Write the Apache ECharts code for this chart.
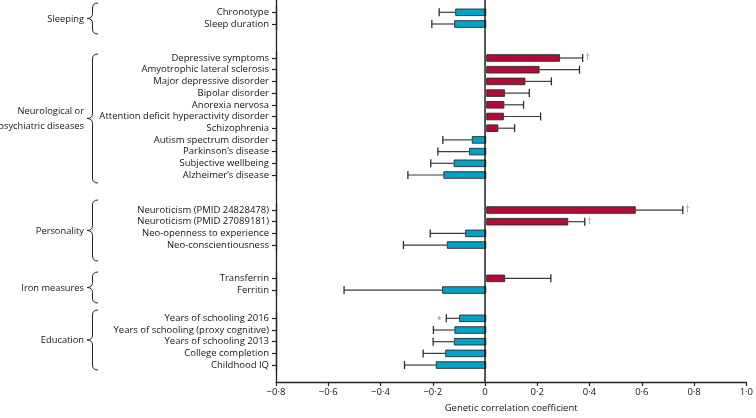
<!DOCTYPE html>
<html><head><meta charset="utf-8">
<script src="https://cdn.jsdelivr.net/npm/echarts@6/dist/echarts.min.js"></script>
<style>html,body{margin:0;padding:0;background:#fff;}#c{width:756px;height:418px;}</style>
</head><body><div id="c"></div>
<script>
// ---- Data ----
const groupNames = ['Sleeping', 'Neurological or\npsychiatric diseases', 'Personality', 'Iron measures', 'Education'];

const sleepCats = ['Chronotype', 'Sleep duration'];
const sleepVals = [-0.118, -0.122];
const sleepCI = [-0.179, -0.207];
const sleepNotes = ['', ''];

const neuroCats = ['Depressive symptoms', 'Amyotrophic lateral sclerosis', 'Major depressive disorder', 'Bipolar disorder', 'Anorexia nervosa', 'Attention deficit hyperactivity disorder', 'Schizophrenia', 'Autism spectrum disorder', 'Parkinson’s disease', 'Subjective wellbeing', 'Alzheimer’s disease'];
const neuroVals = [0.281, 0.203, 0.149, 0.071, 0.069, 0.067, 0.046, -0.055, -0.065, -0.124, -0.163];
const neuroCI = [0.367, 0.355, 0.248, 0.164, 0.142, 0.207, 0.108, -0.165, -0.184, -0.211, -0.298];
const neuroNotes = ['†', '', '', '', '', '', '', '', '', '', ''];

const persCats = ['Neuroticism (PMID 24828478)', 'Neuroticism (PMID 27089181)', 'Neo-openness to experience', 'Neo-conscientiousness'];
const persVals = [0.569, 0.312, -0.080, -0.150];
const persCI = [0.748, 0.375, -0.213, -0.315];
const persNotes = ['†', '†', '', ''];

const ironCats = ['Transferrin', 'Ferritin'];
const ironVals = [0.072, -0.168];
const ironCI = [0.246, -0.541];
const ironNotes = ['', ''];

const eduCats = ['Years of schooling 2016', 'Years of schooling (proxy cognitive)', 'Years of schooling 2013', 'College completion', 'Childhood IQ'];
const eduVals = [-0.103, -0.121, -0.123, -0.156, -0.192];
const eduCI = [-0.152, -0.201, -0.202, -0.240, -0.311];
const eduNotes = ['*', '', '', '', ''];

const xTicks = [-0.8, -0.6, -0.4, -0.2, 0, 0.2, 0.4, 0.6, 0.8, 1.0];
const xName = 'Genetic correlation coefficient';

// ---- Layout / style ----
const FONT = 'Open Sans';
const TXT = '#151515';
const RED = '#b20b37', BLUE = '#00a2c7';
const groups = [
  {cats: sleepCats, vals: sleepVals, ci: sleepCI, notes: sleepNotes, top: 6.45, rowH: 11.7, brace: [3, 34]},
  {cats: neuroCats, vals: neuroVals, ci: neuroCI, notes: neuroNotes, top: 52.15, rowH: 11.7, brace: [54, 183]},
  {cats: persCats, vals: persVals, ci: persCI, notes: persNotes, top: 204.2, rowH: 11.67, brace: [200, 261]},
  {cats: ironCats, vals: ironVals, ci: ironCI, notes: ironNotes, top: 272.5, rowH: 11.7, brace: [272, 303]},
  {cats: eduCats, vals: eduVals, ci: eduCI, notes: eduNotes, top: 312.5, rowH: 11.68, brace: [310, 370]}
];
const L = 276, R = 7;

function fmt(v) {
  if (Math.abs(v) < 1e-9) return '0';
  const s = Math.abs(v).toFixed(1).replace('.', '·');
  return (v < 0 ? '\u2212' : '') + s;
}

const grids = [{left: L, right: R, top: 0, bottom: 34}];
const xAxes = [{
  gridIndex: 0, type: 'value', min: xTicks[0], max: xTicks[xTicks.length - 1], interval: 0.2,
  name: xName, nameLocation: 'middle', nameGap: 21,
  nameTextStyle: {fontFamily: FONT, fontSize: 9.5, color: TXT},
  axisLine: {onZero: false, lineStyle: {color: '#222', width: 1.3}},
  axisTick: {length: 4, lineStyle: {color: '#222', width: 1.2}},
  axisLabel: {formatter: fmt, fontFamily: FONT, fontSize: 9.5, color: TXT, margin: 5},
  splitLine: {show: false}
}];
const yAxes = [{
  gridIndex: 0, type: 'value', min: 0, max: 1,
  axisLine: {show: true, onZero: false, lineStyle: {color: '#222', width: 1.3}},
  axisTick: {show: false}, axisLabel: {show: false}, splitLine: {show: false}
}];
const series = [{
  type: 'line', xAxisIndex: 0, yAxisIndex: 0, data: [[0, 0], [0, 1]],
  symbol: 'none', lineStyle: {color: '#111', width: 1.4}, silent: true, z: 5
}];

groups.forEach((g, i) => {
  const gi = i + 1;
  const h = g.rowH * g.cats.length;
  grids.push({left: L, right: R, top: g.top, height: h});
  xAxes.push({gridIndex: gi, type: 'value', min: xTicks[0], max: xTicks[xTicks.length - 1], show: false});
  yAxes.push({
    gridIndex: gi, type: 'category', inverse: true, data: g.cats, position: 'left',
    axisLine: {show: true, onZero: false, lineStyle: {color: '#222', width: 1.3}},
    axisTick: {show: true, interval: 0, alignWithLabel: true, length: 4, lineStyle: {color: '#222', width: 1.2}},
    axisLabel: {interval: 0, fontFamily: FONT, fontSize: 9.5, color: TXT, margin: 7}
  });
  series.push({
    type: 'bar', xAxisIndex: gi, yAxisIndex: gi, barWidth: 7.5,
    data: g.vals.map(v => ({value: v, itemStyle: {color: v > 0 ? RED : BLUE}})),
    itemStyle: {borderColor: '#2a2a2a', borderWidth: 0.9}, z: 3
  });
  series.push({
    type: 'custom', xAxisIndex: gi, yAxisIndex: gi, z: 2,
    data: g.vals.map((v, k) => [v, g.ci[k], k]),
    encode: {x: [0, 1], y: 2},
    renderItem: function (params, api) {
      const k = api.value(2);
      const p0 = api.coord([api.value(0), k]);
      const p1 = api.coord([api.value(1), k]);
      const note = g.notes[k];
      const children = [
        {type: 'line', shape: {x1: p0[0], y1: p0[1], x2: p1[0], y2: p1[1]}, style: {stroke: '#3c3c3c', lineWidth: 1.2}},
        {type: 'line', shape: {x1: p1[0], y1: p1[1] - 4, x2: p1[0], y2: p1[1] + 4}, style: {stroke: '#2c2c2c', lineWidth: 1.3}}
      ];
      if (note) {
        const pos = api.value(1) > 0;
        children.push({type: 'text', style: {
          text: note, x: pos ? p1[0] + 5 : p1[0] - 7, y: p1[1] + (note === '*' ? 2 : 0),
          align: 'center', verticalAlign: 'middle', fontFamily: FONT, fontSize: 8.5, fill: '#888'
        }});
      }
      return {type: 'group', children: children};
    }
  });
});

// Braces and group labels (decoration)
function brace(x, y0, y1, w, r) {
  const xm = x + w / 2, ym = (y0 + y1) / 2;
  const st = {stroke: '#222', lineWidth: 1, fill: null};
  return [
    {type: 'bezierCurve', shape: {x1: x + w, y1: y0, cpx1: xm, cpy1: y0, x2: xm, y2: y0 + r}, style: st, silent: true},
    {type: 'line', shape: {x1: xm, y1: y0 + r, x2: xm, y2: ym - r}, style: st, silent: true},
    {type: 'bezierCurve', shape: {x1: xm, y1: ym - r, cpx1: xm, cpy1: ym, x2: x, y2: ym}, style: st, silent: true},
    {type: 'bezierCurve', shape: {x1: x, y1: ym, cpx1: xm, cpy1: ym, x2: xm, y2: ym + r}, style: st, silent: true},
    {type: 'line', shape: {x1: xm, y1: ym + r, x2: xm, y2: y1 - r}, style: st, silent: true},
    {type: 'bezierCurve', shape: {x1: xm, y1: y1 - r, cpx1: xm, cpy1: y1, x2: x + w, y2: y1}, style: st, silent: true}
  ];
}
const graphic = [];
groups.forEach((g, i) => {
  const [y0, y1] = g.brace;
  brace(87, y0, y1, 11, 5).forEach(e => graphic.push(e));
  graphic.push({type: 'text', x: 84, y: (y0 + y1) / 2 + 0.5,
    style: {text: groupNames[i], align: 'right', verticalAlign: 'middle', fontFamily: FONT, fontSize: 9.3,
      fill: TXT, lineHeight: 15}, silent: true});
});

const chart = echarts.init(document.getElementById('c'), null, {renderer: 'canvas'});
chart.setOption({
  animation: false, backgroundColor: '#fff',
  grid: grids, xAxis: xAxes, yAxis: yAxes, series: series, graphic: graphic
});
</script></body></html>
